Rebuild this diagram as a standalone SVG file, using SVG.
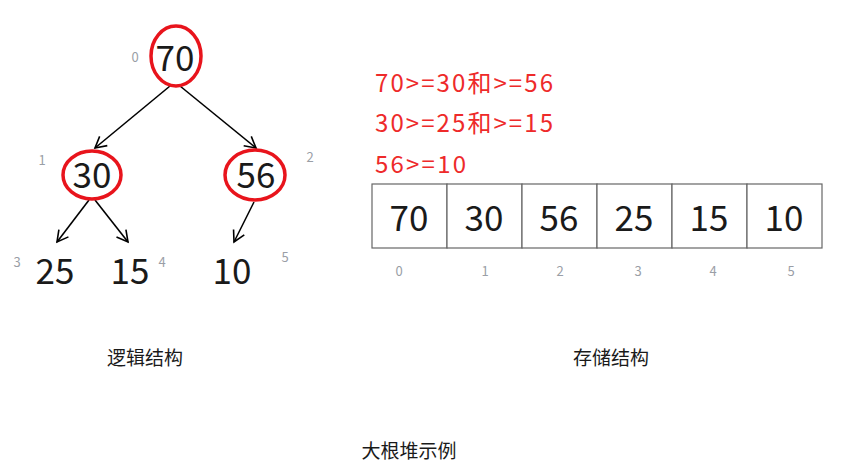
<svg xmlns="http://www.w3.org/2000/svg" width="853" height="475" viewBox="0 0 853 475">
<defs>
<marker id="arr" markerWidth="14" markerHeight="14" refX="12" refY="7" orient="auto" markerUnits="userSpaceOnUse">
<path d="M1,1 L12,7 L1,13" fill="none" stroke="#000" stroke-width="1.6"/>
</marker>
<style>
.num{font-family:"Noto Sans CJK SC","Noto Sans",sans-serif;font-size:35px;fill:#1a1a1a;text-anchor:middle}
.idx{font-family:"Noto Sans CJK SC","Noto Sans",sans-serif;font-size:13px;fill:#9a9ea6;text-anchor:middle}
.red{font-family:"Noto Sans CJK SC","Noto Sans",sans-serif;font-size:24px;fill:#ee2a2a}
.lbl{font-family:"Noto Sans CJK SC","Noto Sans",sans-serif;font-size:19px;fill:#1a1a1a;text-anchor:middle}
.ring{fill:none;stroke:#e8141c;stroke-width:3.5}
.edge{stroke:#000;stroke-width:1.6;fill:none;marker-end:url(#arr)}
.cell{fill:#fff;stroke:#666;stroke-width:1.2}
</style>
</defs>
<rect width="853" height="475" fill="#fff"/>
<g id="connectors">
<line class="edge" x1="170" y1="86" x2="95" y2="148"/>
<line class="edge" x1="180" y1="86" x2="256" y2="148"/>
<line class="edge" x1="89" y1="200" x2="57" y2="242"/>
<line class="edge" x1="95" y1="200" x2="128" y2="242"/>
<line class="edge" x1="254" y1="202" x2="234" y2="242"/>
</g>
<g id="n0"><ellipse class="ring" cx="176" cy="56" rx="25" ry="30"/><text class="num" x="175" y="71">70</text><text class="idx" x="135" y="62">0</text></g>
<g id="n1"><ellipse class="ring" cx="92" cy="175" rx="29" ry="24"/><text class="num" x="92" y="188">30</text><text class="idx" x="42" y="165">1</text></g>
<g id="n2"><ellipse class="ring" cx="255" cy="175" rx="30" ry="25"/><text class="num" x="256" y="188">56</text><text class="idx" x="310" y="162">2</text></g>
<g id="n3"><text class="num" x="55" y="284">25</text><text class="idx" x="17" y="267">3</text></g>
<g id="n4"><text class="num" x="130" y="284">15</text><text class="idx" x="162" y="267">4</text></g>
<g id="n5"><text class="num" x="232" y="284">10</text><text class="idx" x="285" y="262">5</text></g>
<g id="notes">
<text class="red" x="375" y="92" textLength="178" lengthAdjust="spacing">70&gt;=30和&gt;=56</text>
<text class="red" x="375" y="132" textLength="178" lengthAdjust="spacing">30&gt;=25和&gt;=15</text>
<text class="red" x="375" y="173" textLength="91" lengthAdjust="spacing">56&gt;=10</text>
</g>
<g id="array">
<rect class="cell" x="372" y="184" width="75" height="64"/>
<rect class="cell" x="447" y="184" width="75" height="64"/>
<rect class="cell" x="522" y="184" width="75" height="64"/>
<rect class="cell" x="597" y="184" width="75" height="64"/>
<rect class="cell" x="672" y="184" width="75" height="64"/>
<rect class="cell" x="747" y="184" width="75" height="64"/>
<text class="num" x="409" y="231">70</text>
<text class="num" x="484" y="231">30</text>
<text class="num" x="559" y="231">56</text>
<text class="num" x="634" y="231">25</text>
<text class="num" x="709" y="231">15</text>
<text class="num" x="784" y="231">10</text>
<text class="idx" x="399" y="276">0</text>
<text class="idx" x="485" y="276">1</text>
<text class="idx" x="560" y="276">2</text>
<text class="idx" x="638" y="276">3</text>
<text class="idx" x="713" y="276">4</text>
<text class="idx" x="791" y="276">5</text>
</g>
<g id="labels">
<text class="lbl" x="145" y="365">逻辑结构</text>
<text class="lbl" x="611" y="365">存储结构</text>
<text class="lbl" x="409" y="458">大根堆示例</text>
</g>
</svg>
